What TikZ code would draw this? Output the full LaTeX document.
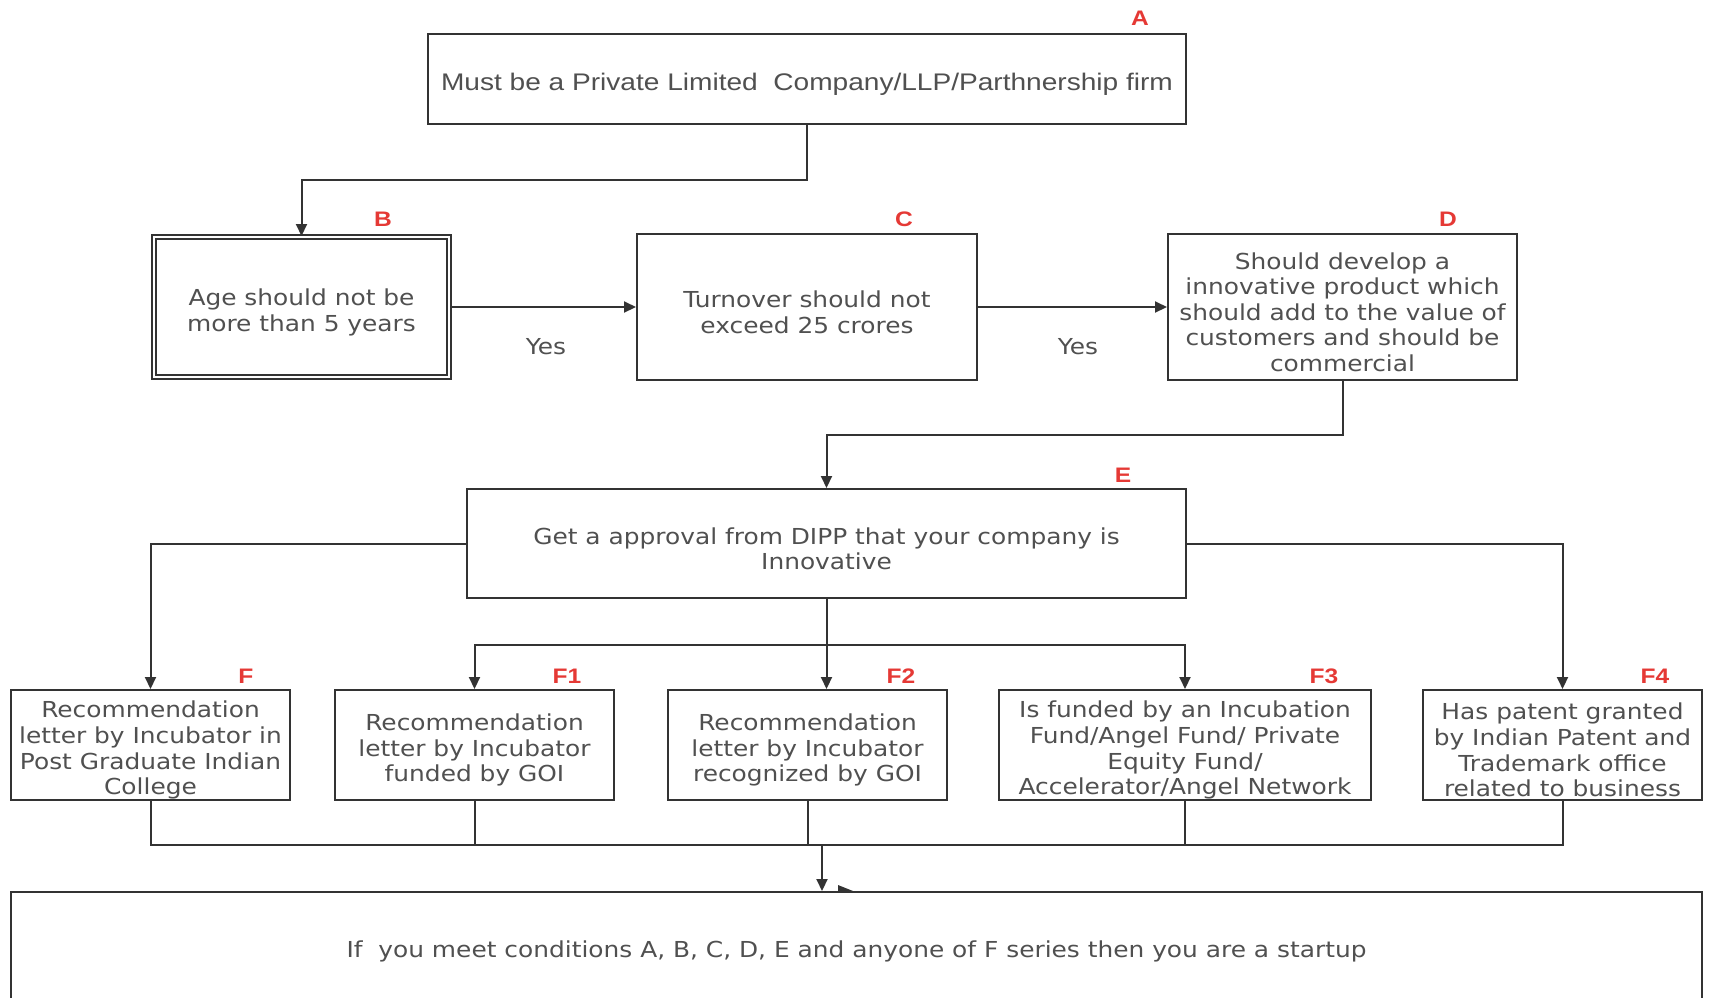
\documentclass[tikz,border=0pt]{standalone}
\usepackage{fontspec}
\usetikzlibrary{arrows.meta}
\newfontfamily\boxfont{DejaVu Sans}[FakeStretch=1.13]
\newfontfamily\afont{Liberation Sans}[FakeStretch=1.17]
\definecolor{ln}{HTML}{333333}
\definecolor{tx}{HTML}{505050}
\definecolor{lbl}{HTML}{E53935}
\newcommand\fstrut{\rule{0pt}{27pt}}
\tikzset{
  box/.style={draw=ln, line width=2pt, fill=white, inner sep=0pt, align=center, text=tx,
    font=\boxfont\fontsize{22}{25.6}\selectfont, execute at begin node={\fstrut}},
  conn/.style={draw=ln, line width=2pt},
  arr/.style={conn, -{Triangle[length=12pt,width=11pt]}},
  lab/.style={text=lbl, font=\afont\bfseries\fontsize{21}{21}\selectfont},
  yes/.style={text=tx, font=\boxfont\fontsize{22}{22}\selectfont}
}
\begin{document}
\begin{tikzpicture}[x=1pt,y=-1pt]
\useasboundingbox (0,0) rectangle (1712,997);
% boxes
\node[box, minimum width=758, minimum height=90, font=\afont\fontsize{24}{28}\selectfont] (A) at (807,79) {Must be a Private Limited\ \ Company/LLP/Parthnership firm};
\node[box, double=white, double distance=2.5pt, line width=2pt, minimum width=295, minimum height=140] (B) at (301.5,307) {\fstrut Age should not be\\more than 5 years};
\node[box, minimum width=340, minimum height=146] (C) at (807,307) {\fstrut Turnover should not\\exceed 25 crores};
\node[box, minimum width=349, minimum height=146] (D) at (1342.5,307) {\fstrut Should develop a\\innovative product which\\should add to the value of\\customers and should be\\commercial};
\node[box, minimum width=719, minimum height=109] (E) at (826.5,543.5) {\fstrut Get a approval from DIPP that your company is\\Innovative};
\node[box, minimum width=279, minimum height=110] (F) at (150.5,745) {\fstrut Recommendation\\letter by Incubator in\\Post Graduate Indian\\College};
\node[box, minimum width=279, minimum height=110] (F1) at (474.5,745) {\fstrut Recommendation\\letter by Incubator\\funded by GOI};
\node[box, minimum width=279, minimum height=110] (F2) at (807.5,745) {\fstrut Recommendation\\letter by Incubator\\recognized by GOI};
\node[box, minimum width=372, minimum height=110] (F3) at (1185,745) {\fstrut Is funded by an Incubation\\Fund/Angel Fund/ Private\\Equity Fund/\\Accelerator/Angel Network};
\node[box, minimum width=279, minimum height=110] (F4) at (1562.5,745) {\fstrut Has patent granted\\by Indian Patent and\\Trademark office\\related to business};
\node[box, minimum width=1691, minimum height=150, anchor=north, execute at begin node={}] (G) at (856.5,891) {};
\node[text=tx, font=\boxfont\fontsize{22}{26}\selectfont] (Gt) at (856.5,951) {If\ \ you meet conditions A, B, C, D, E and anyone of F series then you are a startup};
% labels
\node[lab] (lA) at (1140,18) {A};
\node[lab] (lB) at (383,219) {B};
\node[lab] (lC) at (904,219) {C};
\node[lab] (lD) at (1448,219) {D};
\node[lab] (lE) at (1123,475) {E};
\node[lab] (lF) at (246,676) {F};
\node[lab] (lF1) at (567,676) {F1};
\node[lab] (lF2) at (901,676) {F2};
\node[lab] (lF3) at (1324,676) {F3};
\node[lab] (lF4) at (1655,676) {F4};
\node[yes] (y1) at (546,347) {Yes};
\node[yes] (y2) at (1078,347) {Yes};
% connectors
\draw[arr] (A.south) -- (A.south |- 0,180) -| (B.north);
\draw[arr] (B.east) -- (C.west);
\draw[arr] (C.east) -- (D.west);
\draw[arr] (D.south) -- (D.south |- 0,435) -| (E.north);
\draw[arr] (E.west) -| (F.north);
\draw[arr] (E.east) -| (F4.north);
\draw[arr] (E.south) -- (E.south |- F2.north);
\coordinate (br) at (826.5,645);
\draw[arr] (br) -| (F1.north);
\draw[arr] (br) -| (F3.north);
\draw[conn] (F.south) -- (F.south |- 0,845) -- (F4.south |- 0,845) -- (F4.south);
\draw[conn] (F1.south) -- (F1.south |- 0,845);
\draw[conn] (F2.south) -- (F2.south |- 0,845);
\draw[conn] (F3.south) -- (F3.south |- 0,845);
\coordinate (m) at (822,845);
\draw[arr] (m) -- (m |- G.north);
\fill[ln] (838,885) -- (853,891) -- (838,891) -- cycle;
\end{tikzpicture}
\end{document}
